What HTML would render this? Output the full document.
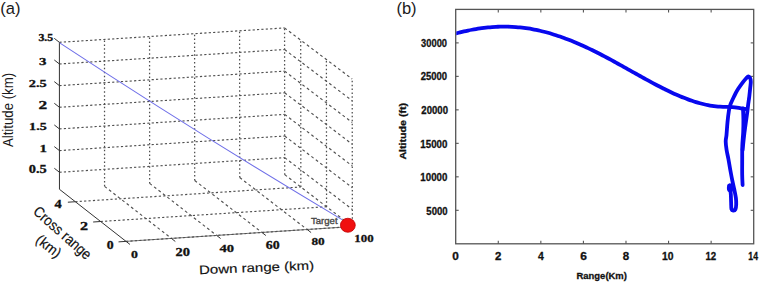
<!DOCTYPE html>
<html><head><meta charset="utf-8"><style>
html,body{margin:0;padding:0;background:#fff;width:760px;height:284px;overflow:hidden}
svg{display:block}
.dash{stroke:#505050;stroke-width:1.15;stroke-dasharray:2.2 2.2;fill:none}
.dashd{stroke:#505050;stroke-width:1.15;stroke-dasharray:2.8 2.8;fill:none}
.dot{stroke:#4d4d4d;stroke-width:1.25;stroke-dasharray:1.5 2.4;fill:none}
.ax{stroke:#333;stroke-width:1;fill:none}
.ax2{stroke:#777;stroke-width:1;fill:none}
.rbox{fill:none;stroke:#555;stroke-width:1.3}
.rt{stroke:#555;stroke-width:1.1}
</style></head><body>
<svg width="760" height="284" viewBox="0 0 760 284">
<rect width="760" height="284" fill="#fff"/>
<g>
<line x1="104.57" y1="186.36" x2="104.49" y2="39.44" class="dot"/>
<line x1="149.65" y1="183.42" x2="149.56" y2="36.56" class="dot"/>
<line x1="194.70" y1="180.49" x2="194.59" y2="33.67" class="dot"/>
<line x1="239.72" y1="177.56" x2="239.59" y2="30.79" class="dot"/>
<line x1="284.71" y1="174.63" x2="284.56" y2="27.92" class="dot"/>
<line x1="59.45" y1="172.27" x2="284.69" y2="157.63" class="dash"/>
<line x1="59.44" y1="150.61" x2="284.67" y2="136.00" class="dash"/>
<line x1="59.44" y1="128.94" x2="284.65" y2="114.38" class="dash"/>
<line x1="59.43" y1="107.29" x2="284.63" y2="92.76" class="dash"/>
<line x1="59.42" y1="85.63" x2="284.60" y2="71.14" class="dash"/>
<line x1="59.41" y1="63.98" x2="284.58" y2="49.53" class="dash"/>
<line x1="59.40" y1="42.33" x2="284.56" y2="27.92" class="dash"/>
<line x1="352.37" y1="226.53" x2="352.19" y2="79.00" class="dot"/>
<line x1="326.56" y1="206.73" x2="326.39" y2="59.51" class="dot"/>
<line x1="300.85" y1="187.01" x2="300.69" y2="40.10" class="dot"/>
<line x1="284.69" y1="157.63" x2="352.35" y2="209.43" class="dashd"/>
<line x1="284.67" y1="136.00" x2="352.32" y2="187.69" class="dashd"/>
<line x1="284.65" y1="114.38" x2="352.30" y2="165.95" class="dashd"/>
<line x1="284.63" y1="92.76" x2="352.27" y2="144.21" class="dashd"/>
<line x1="284.60" y1="71.14" x2="352.24" y2="122.47" class="dashd"/>
<line x1="284.58" y1="49.53" x2="352.22" y2="100.74" class="dashd"/>
<line x1="284.56" y1="27.92" x2="352.19" y2="79.00" class="dashd"/>
<line x1="104.57" y1="186.36" x2="171.36" y2="238.39" class="dashd"/>
<line x1="149.65" y1="183.42" x2="216.66" y2="235.42" class="dashd"/>
<line x1="194.70" y1="180.49" x2="261.92" y2="232.46" class="dashd"/>
<line x1="239.72" y1="177.56" x2="307.16" y2="229.49" class="dashd"/>
<line x1="284.71" y1="174.63" x2="352.37" y2="226.53" class="dashd"/>
<line x1="100.63" y1="221.50" x2="326.56" y2="206.73" class="dash"/>
<line x1="75.34" y1="201.72" x2="300.85" y2="187.01" class="dash"/>
</g>
<g>
<line x1="59.46" y1="189.30" x2="59.40" y2="42.33" class="ax"/>
<line x1="59.46" y1="189.30" x2="126.02" y2="241.37" class="ax"/>
<line x1="126.02" y1="241.37" x2="352.37" y2="226.53" class="ax2"/>
<line x1="126.02" y1="241.37" x2="352.37" y2="226.53" class="dash"/>
<line x1="59.45" y1="172.27" x2="54.33" y2="168.27" class="ax"/>
<line x1="59.44" y1="150.61" x2="54.32" y2="146.61" class="ax"/>
<line x1="59.44" y1="128.94" x2="54.31" y2="124.94" class="ax"/>
<line x1="59.43" y1="107.29" x2="54.30" y2="103.29" class="ax"/>
<line x1="59.42" y1="85.63" x2="54.29" y2="81.63" class="ax"/>
<line x1="59.41" y1="63.98" x2="54.29" y2="59.98" class="ax"/>
<line x1="59.40" y1="42.33" x2="54.28" y2="38.33" class="ax"/>
<line x1="126.02" y1="241.37" x2="118.54" y2="241.86" class="ax"/>
<line x1="100.63" y1="221.50" x2="93.15" y2="222.00" class="ax"/>
<line x1="75.34" y1="201.72" x2="67.86" y2="202.21" class="ax"/>
<line x1="126.02" y1="241.37" x2="129.96" y2="244.44" class="ax"/>
<line x1="171.36" y1="238.39" x2="175.30" y2="241.47" class="ax"/>
<line x1="216.66" y1="235.42" x2="220.60" y2="238.50" class="ax"/>
<line x1="261.92" y1="232.46" x2="265.87" y2="235.53" class="ax"/>
<line x1="307.16" y1="229.49" x2="311.10" y2="232.57" class="ax"/>
</g>
<text transform="translate(38.43,41.06) scale(1.267,1)" font-family="Liberation Serif" font-weight="bold" font-size="9.33" fill="#111" stroke="#111" stroke-width="0.3" >3.5</text>
<text transform="translate(39.11,64.59) scale(1.324,1)" font-family="Liberation Serif" font-weight="bold" font-size="11.19" fill="#111" stroke="#111" stroke-width="0.3" >3</text>
<text transform="translate(28.82,86.68) scale(1.269,1)" font-family="Liberation Serif" font-weight="bold" font-size="11.33" fill="#111" stroke="#111" stroke-width="0.3" >2.5</text>
<text transform="translate(38.41,108.70) scale(1.507,1)" font-family="Liberation Serif" font-weight="bold" font-size="11.52" fill="#111" stroke="#111" stroke-width="0.3" >2</text>
<text transform="translate(29.07,129.53) scale(1.267,1)" font-family="Liberation Serif" font-weight="bold" font-size="11.19" fill="#111" stroke="#111" stroke-width="0.3" >1.5</text>
<text transform="translate(39.61,151.70) scale(1.371,1)" font-family="Liberation Serif" font-weight="bold" font-size="10.84" fill="#111" stroke="#111" stroke-width="0.3" >1</text>
<text transform="translate(28.82,173.23) scale(1.238,1)" font-family="Liberation Serif" font-weight="bold" font-size="11.62" fill="#111" stroke="#111" stroke-width="0.3" >0.5</text>
<text transform="translate(54.38,207.70) scale(1.210,1)" font-family="Liberation Serif" font-weight="bold" font-size="11.91" fill="#111" stroke="#111" stroke-width="0.3" >4</text>
<text transform="translate(79.95,229.60) scale(1.349,1)" font-family="Liberation Serif" font-weight="bold" font-size="11.97" fill="#111" stroke="#111" stroke-width="0.3" >2</text>
<text transform="translate(106.75,248.68) scale(1.180,1)" font-family="Liberation Serif" font-weight="bold" font-size="11.70" fill="#111" stroke="#111" stroke-width="0.3" >0</text>
<text transform="translate(131.05,258.39) scale(1.227,1)" font-family="Liberation Serif" font-weight="bold" font-size="11.26" fill="#111" stroke="#111" stroke-width="0.3" >0</text>
<text transform="translate(175.42,255.58) scale(1.235,1)" font-family="Liberation Serif" font-weight="bold" font-size="11.70" fill="#111" stroke="#111" stroke-width="0.3" >20</text>
<text transform="translate(219.48,251.89) scale(1.332,1)" font-family="Liberation Serif" font-weight="bold" font-size="10.96" fill="#111" stroke="#111" stroke-width="0.3" >40</text>
<text transform="translate(265.81,248.89) scale(1.218,1)" font-family="Liberation Serif" font-weight="bold" font-size="11.41" fill="#111" stroke="#111" stroke-width="0.3" >60</text>
<text transform="translate(311.43,244.69) scale(1.213,1)" font-family="Liberation Serif" font-weight="bold" font-size="10.96" fill="#111" stroke="#111" stroke-width="0.3" >80</text>
<text transform="translate(354.27,241.69) scale(1.177,1)" font-family="Liberation Serif" font-weight="bold" font-size="10.96" fill="#111" stroke="#111" stroke-width="0.3" >100</text>
<path d="M59.7,42.9 Q200.85,135.8 342,219.6" fill="none" stroke="#6f6fe8" stroke-width="1.1"/>
<ellipse cx="347.85" cy="225.25" rx="7.4" ry="7.0" fill="#f01010" stroke="#c00000" stroke-width="0.8"/>
<rect x="455.7" y="9.4" width="298.00" height="234.40" class="rbox"/>
<line x1="498.27" y1="243.8" x2="498.27" y2="240.8" class="rt"/>
<line x1="498.27" y1="9.4" x2="498.27" y2="12.4" class="rt"/>
<line x1="540.84" y1="243.8" x2="540.84" y2="240.8" class="rt"/>
<line x1="540.84" y1="9.4" x2="540.84" y2="12.4" class="rt"/>
<line x1="583.41" y1="243.8" x2="583.41" y2="240.8" class="rt"/>
<line x1="583.41" y1="9.4" x2="583.41" y2="12.4" class="rt"/>
<line x1="625.99" y1="243.8" x2="625.99" y2="240.8" class="rt"/>
<line x1="625.99" y1="9.4" x2="625.99" y2="12.4" class="rt"/>
<line x1="668.56" y1="243.8" x2="668.56" y2="240.8" class="rt"/>
<line x1="668.56" y1="9.4" x2="668.56" y2="12.4" class="rt"/>
<line x1="711.13" y1="243.8" x2="711.13" y2="240.8" class="rt"/>
<line x1="711.13" y1="9.4" x2="711.13" y2="12.4" class="rt"/>
<line x1="455.7" y1="210.31" x2="458.7" y2="210.31" class="rt"/>
<line x1="753.7" y1="210.31" x2="750.7" y2="210.31" class="rt"/>
<line x1="455.7" y1="176.83" x2="458.7" y2="176.83" class="rt"/>
<line x1="753.7" y1="176.83" x2="750.7" y2="176.83" class="rt"/>
<line x1="455.7" y1="143.34" x2="458.7" y2="143.34" class="rt"/>
<line x1="753.7" y1="143.34" x2="750.7" y2="143.34" class="rt"/>
<line x1="455.7" y1="109.86" x2="458.7" y2="109.86" class="rt"/>
<line x1="753.7" y1="109.86" x2="750.7" y2="109.86" class="rt"/>
<line x1="455.7" y1="76.37" x2="458.7" y2="76.37" class="rt"/>
<line x1="753.7" y1="76.37" x2="750.7" y2="76.37" class="rt"/>
<line x1="455.7" y1="42.89" x2="458.7" y2="42.89" class="rt"/>
<line x1="753.7" y1="42.89" x2="750.7" y2="42.89" class="rt"/>
<text transform="translate(452.23,259.70) scale(1.131,1)" font-family="Liberation Sans" font-weight="bold" font-size="10.42" fill="#111" stroke="#111" stroke-width="0.3" >0</text>
<text transform="translate(495.10,259.80) scale(1.084,1)" font-family="Liberation Sans" font-weight="bold" font-size="10.57" fill="#111" stroke="#111" stroke-width="0.3" >2</text>
<text transform="translate(538.04,259.80) scale(0.976,1)" font-family="Liberation Sans" font-weight="bold" font-size="10.72" fill="#111" stroke="#111" stroke-width="0.3" >4</text>
<text transform="translate(580.18,259.70) scale(1.147,1)" font-family="Liberation Sans" font-weight="bold" font-size="10.42" fill="#111" stroke="#111" stroke-width="0.3" >6</text>
<text transform="translate(622.65,259.70) scale(1.105,1)" font-family="Liberation Sans" font-weight="bold" font-size="10.42" fill="#111" stroke="#111" stroke-width="0.3" >8</text>
<text transform="translate(661.93,259.70) scale(0.993,1)" font-family="Liberation Sans" font-weight="bold" font-size="10.42" fill="#111" stroke="#111" stroke-width="0.3" >10</text>
<text transform="translate(705.47,259.80) scale(0.913,1)" font-family="Liberation Sans" font-weight="bold" font-size="10.57" fill="#111" stroke="#111" stroke-width="0.3" >12</text>
<text transform="translate(748.34,259.80) scale(0.807,1)" font-family="Liberation Sans" font-weight="bold" font-size="10.72" fill="#111" stroke="#111" stroke-width="0.3" >14</text>
<text transform="translate(421.07,46.88) scale(0.805,1)" font-family="Liberation Sans" font-weight="bold" font-size="11.62" fill="#111" stroke="#111" stroke-width="0.3" >30000</text>
<text transform="translate(420.67,79.90) scale(0.930,1)" font-family="Liberation Sans" font-weight="bold" font-size="10.21" fill="#111" stroke="#111" stroke-width="0.3" >25000</text>
<text transform="translate(421.36,113.70) scale(0.931,1)" font-family="Liberation Sans" font-weight="bold" font-size="10.28" fill="#111" stroke="#111" stroke-width="0.3" >20000</text>
<text transform="translate(420.37,147.60) scale(0.945,1)" font-family="Liberation Sans" font-weight="bold" font-size="10.28" fill="#111" stroke="#111" stroke-width="0.3" >15000</text>
<text transform="translate(420.37,181.19) scale(0.908,1)" font-family="Liberation Sans" font-weight="bold" font-size="10.70" fill="#111" stroke="#111" stroke-width="0.3" >10000</text>
<text transform="translate(426.36,215.19) scale(0.893,1)" font-family="Liberation Sans" font-weight="bold" font-size="10.70" fill="#111" stroke="#111" stroke-width="0.3" >5000</text>
<text transform="translate(0.17,13.95) scale(0.981,1)" font-family="Liberation Sans" font-weight="normal" font-size="16.90" fill="#1a1a1a"  >(a)</text>
<text transform="translate(396.41,13.62) scale(0.998,1)" font-family="Liberation Sans" font-weight="normal" font-size="16.58" fill="#1a1a1a"  >(b)</text>
<text transform="translate(310.96,223.70) scale(1.033,1)" font-family="Liberation Sans" font-weight="normal" font-size="9.28" fill="#484848"  stroke="#484848" stroke-width="0.35">Target</text>
<text transform="translate(576.48,279.00) scale(0.975,1)" font-family="Liberation Sans" font-weight="bold" font-size="9.71" fill="#111" stroke="#111" stroke-width="0.3" >Range(Km)</text>
<text transform="translate(405.50,159.57) rotate(-90) scale(1.096,1)" font-family="Liberation Sans" font-weight="bold" font-size="9.71" fill="#111" stroke="#111" stroke-width="0.3">Altitude (ft)</text>
<text transform="translate(13.20,147.07) rotate(-90) scale(0.958,1)" font-family="Liberation Sans" font-weight="normal" font-size="13.79" fill="#1a1a1a" >Altitude (km)</text>
<text transform="translate(199.3,274.3) rotate(-2.4) scale(1.21,1)" font-family="Liberation Sans" font-size="12.4" fill="#111" stroke="#111" stroke-width="0.15">Down range (km)</text>
<text transform="translate(32.15,212.85) rotate(41.5) scale(0.88,1)" font-family="Liberation Sans" font-size="15" fill="#111" stroke="#111" stroke-width="0.15">Cross range</text>
<text transform="translate(34.85,241.6) rotate(38) scale(0.95,1)" font-family="Liberation Sans" font-size="14.5" fill="#111" stroke="#111" stroke-width="0.15">(km)</text>
<clipPath id="rc"><rect x="456.3" y="9.4" width="297" height="234.4"/></clipPath>
<g fill="none" stroke="#0808ee" stroke-width="3.8" stroke-linejoin="round" stroke-linecap="round" clip-path="url(#rc)">
<path d="M456.00,33.41 C456.67,33.24 458.67,32.72 460.00,32.38 C461.33,32.05 462.67,31.73 464.00,31.43 C465.33,31.12 466.67,30.83 468.00,30.55 C469.33,30.27 470.67,30.00 472.00,29.75 C473.33,29.50 474.67,29.26 476.00,29.04 C477.33,28.81 478.67,28.60 480.00,28.41 C481.33,28.22 482.67,28.04 484.00,27.87 C485.33,27.71 486.67,27.56 488.00,27.43 C489.33,27.30 490.67,27.18 492.00,27.08 C493.33,26.98 494.67,26.90 496.00,26.83 C497.33,26.77 498.67,26.72 500.00,26.68 C501.33,26.65 502.67,26.63 504.00,26.63 C505.33,26.63 506.67,26.65 508.00,26.68 C509.33,26.72 510.67,26.77 512.00,26.84 C513.33,26.90 514.67,26.99 516.00,27.09 C517.33,27.19 518.67,27.31 520.00,27.45 C521.33,27.59 522.67,27.74 524.00,27.91 C525.33,28.08 526.67,28.27 528.00,28.47 C529.33,28.68 530.67,28.90 532.00,29.14 C533.33,29.38 534.67,29.63 536.00,29.90 C537.33,30.18 538.67,30.46 540.00,30.77 C541.33,31.07 542.67,31.40 544.00,31.73 C545.33,32.07 546.67,32.42 548.00,32.79 C549.33,33.16 550.67,33.55 552.00,33.95 C553.33,34.35 554.67,34.76 556.00,35.19 C557.33,35.62 558.67,36.07 560.00,36.53 C561.33,36.98 562.67,37.46 564.00,37.95 C565.33,38.43 566.67,38.94 568.00,39.45 C569.33,39.97 570.67,40.50 572.00,41.04 C573.33,41.58 574.67,42.13 576.00,42.70 C577.33,43.27 578.67,43.85 580.00,44.44 C581.33,45.03 582.67,45.63 584.00,46.24 C585.33,46.85 586.67,47.48 588.00,48.11 C589.33,48.74 590.67,49.39 592.00,50.04 C593.33,50.69 594.67,51.35 596.00,52.02 C597.33,52.70 598.67,53.38 600.00,54.06 C601.33,54.75 602.67,55.44 604.00,56.14 C605.33,56.85 606.67,57.55 608.00,58.27 C609.33,58.98 610.67,59.70 612.00,60.43 C613.33,61.15 614.67,61.88 616.00,62.61 C617.33,63.35 618.67,64.08 620.00,64.82 C621.33,65.56 622.67,66.31 624.00,67.05 C625.33,67.80 626.67,68.54 628.00,69.29 C629.33,70.04 630.67,70.79 632.00,71.54 C633.33,72.28 634.67,73.03 636.00,73.78 C637.33,74.52 638.67,75.27 640.00,76.01 C641.33,76.75 642.67,77.49 644.00,78.23 C645.33,78.96 646.67,79.69 648.00,80.42 C649.33,81.15 650.67,81.87 652.00,82.58 C653.33,83.30 654.67,84.01 656.00,84.71 C657.33,85.41 658.67,86.10 660.00,86.78 C661.33,87.47 662.67,88.14 664.00,88.81 C665.33,89.47 666.67,90.13 668.00,90.77 C669.33,91.41 670.67,92.04 672.00,92.66 C673.33,93.28 674.67,93.89 676.00,94.48 C677.33,95.07 678.67,95.64 680.00,96.20 C681.33,96.76 682.67,97.31 684.00,97.83 C685.33,98.36 686.67,98.87 688.00,99.36 C689.33,99.85 690.67,100.32 692.00,100.77 C693.33,101.22 694.67,101.65 696.00,102.06 C697.33,102.47 698.67,102.85 700.00,103.22 C701.33,103.58 702.67,103.92 704.00,104.23 C705.33,104.55 706.67,104.84 708.00,105.10 C709.33,105.36 710.67,105.60 712.00,105.80 C713.33,106.01 714.67,106.19 716.00,106.34 C717.33,106.49 718.67,106.61 720.00,106.69 C721.33,106.78 721.93,106.79 724.00,106.86 C726.07,106.93 729.58,106.86 732.40,107.10 C735.22,107.34 738.63,107.97 740.90,108.30 C743.17,108.63 745.15,108.97 746.00,109.10"/>
<path d="M742.60,150.00 C742.77,148.33 743.23,143.33 743.60,140.00 C743.97,136.67 744.37,133.33 744.80,130.00 C745.23,126.67 745.78,123.00 746.20,120.00 C746.62,117.00 746.98,114.52 747.30,112.00 C747.62,109.48 747.77,107.50 748.10,104.90 C748.43,102.30 748.95,99.22 749.30,96.40 C749.65,93.58 749.95,90.40 750.20,88.00 C750.45,85.60 750.80,83.62 750.80,82.00 C750.80,80.38 750.60,79.25 750.20,78.30 C749.80,77.35 749.10,76.27 748.40,76.30 C747.70,76.33 746.93,77.48 746.00,78.50 C745.07,79.52 744.25,80.45 742.80,82.40 C741.35,84.35 738.75,87.87 737.30,90.20 C735.85,92.53 735.27,93.95 734.10,96.40 C732.93,98.85 731.17,102.50 730.30,104.90 C729.43,107.30 729.37,107.92 728.90,110.80 C728.43,113.68 727.90,118.17 727.50,122.20 C727.10,126.23 726.80,131.78 726.50,135.00 C726.20,138.22 725.68,139.00 725.70,141.50 C725.72,144.00 726.15,147.08 726.60,150.00 C727.05,152.92 727.78,155.67 728.40,159.00 C729.02,162.33 729.63,166.33 730.30,170.00 C730.97,173.67 731.72,177.67 732.40,181.00 C733.08,184.33 733.82,187.17 734.40,190.00 C734.98,192.83 735.60,195.58 735.90,198.00 C736.20,200.42 736.28,202.60 736.20,204.50 C736.12,206.40 735.87,208.40 735.40,209.40 C734.93,210.40 734.05,210.52 733.40,210.50 C732.75,210.48 731.88,210.72 731.50,209.30 C731.12,207.88 731.22,204.55 731.10,202.00 C730.98,199.45 730.98,196.33 730.80,194.00 C730.62,191.67 730.23,189.42 730.00,188.00 C729.77,186.58 729.50,185.92 729.40,185.50"/>
<path d="M743.00,108.50 C743.07,110.42 743.37,116.08 743.40,120.00 C743.43,123.92 743.38,127.67 743.20,132.00 C743.02,136.33 742.47,141.33 742.30,146.00 C742.13,150.67 742.22,155.17 742.20,160.00 C742.18,164.83 742.13,170.83 742.20,175.00 C742.27,179.17 742.53,183.33 742.60,185.00"/>
</g>
<ellipse cx="730.1" cy="188" rx="3.2" ry="4.4" fill="#0808ee"/>
</svg>
</body></html>
